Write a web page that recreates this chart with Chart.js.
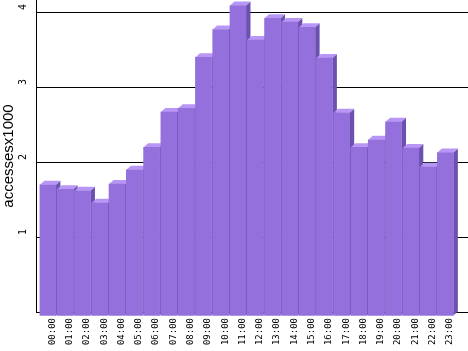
<!DOCTYPE html>
<html>
<head>
<meta charset="utf-8">
<script src="https://cdn.jsdelivr.net/npm/chart.js@4/dist/chart.umd.min.js"></script>
<style>
  html, body { margin: 0; padding: 0; background: #fff; }
  canvas { display: block; }
</style>
</head>
<body>
<canvas id="grafico" width="468" height="351"></canvas>
<script>
const horas = ['00:00','01:00','02:00','03:00','04:00','05:00','06:00','07:00','08:00','09:00','10:00','11:00',
               '12:00','13:00','14:00','15:00','16:00','17:00','18:00','19:00','20:00','21:00','22:00','23:00'];
// accesses, in thousands
const acessos = [1.75,1.69,1.67,1.51,1.76,1.95,2.25,2.72,2.77,3.45,3.82,4.14,
                 3.68,3.97,3.92,3.85,3.44,2.71,2.25,2.35,2.59,2.24,1.99,2.18];
const yTicks = [0,1,2,3,4];

const corFrente = '#9370db';
const corTopo = '#b896f5';
const corLado = '#6b52ae';
const DX = 4.5, DY = 4;

// faces de cima e do lado, desenhadas antes da frente
const barras3d = {
  id: 'barras3d',
  beforeDatasetsDraw(chart) {
    const ctx = chart.ctx;
    const meta = chart.getDatasetMeta(0);
    ctx.save();
    meta.data.forEach(function(bar){
      const p = bar.getProps(['x','y','base','width'], true);
      const L = p.x - p.width/2, R = p.x + p.width/2, T = p.y, B = p.base;
      // lado
      ctx.fillStyle = corLado;
      ctx.beginPath();
      ctx.moveTo(R - DX, T + DY);
      ctx.lineTo(R, T);
      ctx.lineTo(R, B);
      ctx.lineTo(R - DX, B + DY);
      ctx.closePath();
      ctx.fill();
      // topo
      ctx.fillStyle = corTopo;
      ctx.beginPath();
      ctx.moveTo(L - DX, T + DY);
      ctx.lineTo(L, T);
      ctx.lineTo(R, T);
      ctx.lineTo(R - DX, T + DY);
      ctx.closePath();
      ctx.fill();
    });
    ctx.restore();
    // frente deslocada
    ctx.save();
    ctx.translate(-DX, DY);
  },
  afterDatasetsDraw(chart) {
    chart.ctx.restore();
  }
};

new Chart(document.getElementById('grafico'), {
  type: 'bar',
  data: {
    datasets: [{
      data: acessos.map((v, i) => ({x: i, y: v})),
      backgroundColor: corFrente,
      borderWidth: 0,
      barThickness: 16,
      clip: false
    }]
  },
  options: {
    responsive: false,
    animation: false,
    events: [],
    layout: {padding: 0},
    plugins: {legend: {display: false}, tooltip: {enabled: false}},
    scales: {
      x: {
        type: 'linear',
        offset: false,
        min: -0.95,
        max: 24.05,
        afterBuildTicks: s => { s.ticks = horas.map((h, i) => ({value: i})); },
        afterFit: s => { s.height = 39; s.paddingLeft = 0; s.paddingRight = 0; },
        grid: {display: false, drawTicks: false},
        border: {display: false},
        ticks: {
          callback: v => horas[v],
          minRotation: 90,
          maxRotation: 90,
          autoSkip: false,
          padding: 6,
          labelOffset: 0,
          color: '#000',
          font: {family: 'DejaVu Sans Mono', size: 9}
        }
      },
      y: {
        min: 0,
        max: 4.16,
        afterBuildTicks: s => { s.ticks = yTicks.map(v => ({value: v})); },
        afterFit: s => { s.width = 36; s.paddingTop = 0; s.paddingBottom = 0; },
        grid: {color: '#000', lineWidth: 1, drawTicks: false},
        border: {display: true, color: '#000', width: 1},
        title: {
          display: true,
          text: 'accessesx1000',
          color: '#000',
          padding: {top: 0, bottom: 0},
          font: {family: 'Liberation Sans', size: 15}
        },
        ticks: {
          callback: v => v === 0 ? '' : String(v),
          minRotation: 90,
          maxRotation: 90,
          padding: 13,
          labelOffset: -8,
          color: '#000',
          font: {family: 'DejaVu Sans Mono', size: 10}
        }
      }
    }
  },
  plugins: [barras3d]
});
</script>
</body>
</html>
